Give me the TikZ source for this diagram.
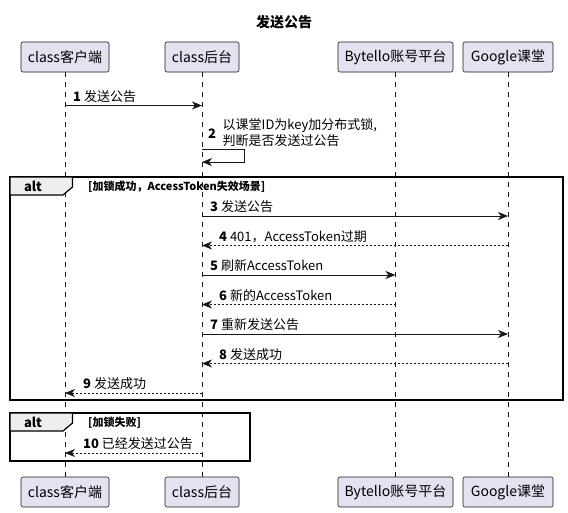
\documentclass[tikz,border=0pt]{standalone}
\usepackage{fontspec}
\setmainfont{Noto Sans CJK SC}
\usetikzlibrary{arrows.meta,calc}
\definecolor{partfill}{RGB}{226,226,240}
\definecolor{partline}{RGB}{24,24,24}
\definecolor{tabfill}{RGB}{238,238,238}
\begin{document}
\begin{tikzpicture}[x=1pt,y=-1pt,
  part/.style={draw=partline, fill=partfill, rounded corners=2pt, minimum height=30pt, inner sep=0pt, line width=0.6pt, font=\fontsize{14}{16}\selectfont},
  life/.style={draw=partline, dash pattern=on 5pt off 5pt, line width=0.5pt},
  msg/.style={-{Stealth[length=10pt,width=8pt,inset=3pt]}, line width=0.8pt, draw=partline},
  ret/.style={msg, dash pattern=on 2pt off 2pt},
  lbl/.style={anchor=base west, font=\fontsize{13}{15}\selectfont, inner sep=0pt},
  frm/.style={line width=1.5pt, draw=black},
  tab/.style={line width=1.2pt, draw=black, fill=tabfill},
  cond/.style={anchor=west, font=\bfseries\fontsize{11}{13}\selectfont, inner sep=0pt},
  altl/.style={font=\bfseries\fontsize{13}{15}\selectfont, inner sep=0pt}
]
\useasboundingbox (0,0) rectangle (568,512);
\fill[white] (0,0) rectangle (568,512);

\node[font=\bfseries\fontsize{14}{16}\selectfont] (title) at (284,22) {发送公告};

% participants
\node[part, minimum width=88pt] (at) at (65,57) {class客户端};
\node[part, minimum width=74pt] (bt) at (202,57) {class后台};
\node[part, minimum width=115pt] (ct) at (395.5,57) {Bytello账号平台};
\node[part, minimum width=90pt] (dt) at (508,57) {Google课堂};
\node[part, minimum width=88pt] (ab) at (65,492) {class客户端};
\node[part, minimum width=74pt] (bb) at (202,492) {class后台};
\node[part, minimum width=115pt] (cb) at (395.5,492) {Bytello账号平台};
\node[part, minimum width=90pt] (db) at (508,492) {Google课堂};

\draw[life] (at.south) -- (ab.north);
\draw[life] (bt.south) -- (bb.north);
\draw[life] (ct.south) -- (cb.north);
\draw[life] (dt.south) -- (db.north);

% 1
\draw[msg] (at |- 0,105.5) -- (bt |- 0,105.5);
\node[lbl] (l1) at (73,101) {\textbf{1} 发送公告};
% 2 self
\draw[msg] (bt |- 0,149) -- ++(42,0) -- ++(0,13) -- (bt |- 0,162);
\node[lbl] (l2n) at (208,138.5) {\textbf{2}};
\node[lbl] (l2a) at (222.5,129) {以课堂ID为key加分布式锁,};
\node[lbl] (l2b) at (222.5,145.5) {判断是否发送过公告};

% alt 1
\draw[frm] (10,177) rectangle (563,400);
\draw[tab] (10,177) -- (72.5,177) -- (72.5,187) -- (63,195) -- (10,195) -- cycle;
\node[altl] (alt1) at (33,186) {alt};
\node[cond] (c1) at (88,186.5) {[加锁成功，AccessToken失效场景]};

% 3
\draw[msg] (bt |- 0,216) -- (dt |- 0,216);
\node[lbl] (l3) at (210,211.5) {\textbf{3} 发送公告};
% 4
\draw[ret] (dt |- 0,245.5) -- (bt |- 0,245.5);
\node[lbl] (l4) at (219,241) {\textbf{4} 401，AccessToken过期};
% 5
\draw[msg] (bt |- 0,275) -- (ct |- 0,275);
\node[lbl] (l5) at (210,270.5) {\textbf{5} 刷新AccessToken};
% 6
\draw[ret] (ct |- 0,304.5) -- (bt |- 0,304.5);
\node[lbl] (l6) at (219,300) {\textbf{6} 新的AccessToken};
% 7
\draw[msg] (bt |- 0,334) -- (dt |- 0,334);
\node[lbl] (l7) at (210,329.5) {\textbf{7} 重新发送公告};
% 8
\draw[ret] (dt |- 0,363.5) -- (bt |- 0,363.5);
\node[lbl] (l8) at (219,359) {\textbf{8} 发送成功};
% 9
\draw[ret] (bt |- 0,393) -- (at |- 0,393);
\node[lbl] (l9) at (83,388.5) {\textbf{9} 发送成功};

% alt 2
\draw[frm] (10,413) rectangle (250,461);
\draw[tab] (10,413) -- (72.5,413) -- (72.5,423) -- (63,431) -- (10,431) -- cycle;
\node[altl] (alt2) at (33,422) {alt};
\node[cond] (c2) at (88,422.5) {[加锁失败]};
% 10
\draw[ret] (bt |- 0,453) -- (at |- 0,453);
\node[lbl] (l10) at (83,448.5) {\textbf{10} 已经发送过公告};
\end{tikzpicture}
\end{document}
